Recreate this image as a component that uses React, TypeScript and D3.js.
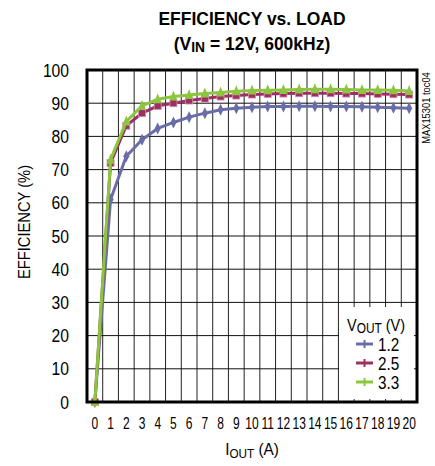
import * as d3 from 'd3';

const loads = d3.range(0, 21).map(String);

const eff12 = [0, 61, 74, 79, 82.4, 84.2, 85.8, 87, 88, 88.5, 88.8, 89, 89, 89.1, 89.1, 89, 89, 88.9, 88.8, 88.6, 88.5];
const eff25 = [0, 72, 83.2, 87, 89.2, 90, 90.8, 91.4, 92, 92.3, 92.6, 92.8, 92.9, 93, 93, 93, 92.9, 92.9, 92.8, 92.7, 92.6];
const eff33 = [0, 73, 84.5, 89.2, 91.2, 92, 92.5, 92.9, 93.2, 93.6, 93.8, 93.9, 94, 94.1, 94.2, 94.2, 94.1, 94, 94, 93.9, 93.7];

const yTicks = [0, 10, 20, 30, 40, 50, 60, 70, 80, 90, 100];

const series = [
  { name: '1.2', values: eff12, color: '#6a6ca8', marker: 'diamond' },
  { name: '2.5', values: eff25, color: '#9c3063', marker: 'square' },
  { name: '3.3', values: eff33, color: '#8cc63e', marker: 'triangle' },
];

const W = 435;
const H = 466;
const plot = { left: 87, right: 417, top: 70, bottom: 402 };

// no narrow face installed, so condensed look comes from a horizontal squeeze
const sans = '"Liberation Sans", Arial, sans-serif';

function Marker({ type, x, y, color }: { type: string; x: number; y: number; color: string }) {
  if (type === 'square') {
    return <rect x={x - 3.5} y={y - 3.5} width={7} height={7} fill={color} stroke="#d98bb0" strokeWidth={0.8} />;
  }
  if (type === 'triangle') {
    return <path d={`M${x},${y - 6} L${x + 4},${y + 4} L${x - 4},${y + 4} Z`} fill={color} />;
  }
  return <path d={`M${x},${y - 6} L${x + 3},${y} L${x},${y + 6} L${x - 3},${y} Z`} fill={color} />;
}

export default function App() {
  const x = d3.scaleBand<string>().domain(loads).range([plot.left, plot.right]).paddingInner(0).paddingOuter(0);
  const y = d3.scaleLinear().domain([0, 100]).range([plot.bottom, plot.top]);
  const cx = (c: string) => (x(c) ?? 0) + x.bandwidth() / 2;

  const line = d3
    .line<number>()
    .x((_, i) => cx(loads[i]))
    .y((d) => y(d));

  const boundaries = loads.slice(1).map((c) => x(c) ?? 0);

  const legend = { x0: 339, x1: 414, y0: 307, y1: 399 };

  return (
    <svg width={W} height={H} style={{ position: 'absolute', left: 0, top: 0, background: '#fff' }}>
      {/* title */}
      <g transform="translate(252,25) scale(0.92,1)">
        <text textAnchor="middle" fontFamily={sans} fontWeight="bold" fontSize={19}>
          EFFICIENCY vs. LOAD
        </text>
      </g>
      <g transform="translate(252,50) scale(0.92,1)">
        <text textAnchor="middle" fontFamily={sans} fontWeight="bold" fontSize={19}>
          (V<tspan fontSize={15} dy={2}>IN</tspan>
          <tspan dy={-2}> = 12V, 600kHz)</tspan>
        </text>
      </g>

      {/* grid */}
      {boundaries.map((bx, i) => (
        <line key={'v' + i} x1={bx} x2={bx} y1={plot.top} y2={plot.bottom} stroke="#222" strokeWidth={1} />
      ))}
      {yTicks.slice(1, -1).map((t) => (
        <line key={'h' + t} x1={plot.left} x2={plot.right} y1={y(t)} y2={y(t)} stroke="#111" strokeWidth={1} />
      ))}

      {/* legend background */}
      <rect x={legend.x0} y={legend.y0} width={legend.x1 - legend.x0} height={legend.y1 - legend.y0} fill="#fff" />

      {/* series */}
      {series.map((s) => (
        <g key={s.name}>
          <path d={line(s.values) ?? ''} fill="none" stroke={s.color} strokeWidth={3} strokeLinejoin="round" />
          {s.values.map((v, i) => (
            <Marker key={i} type={s.marker} x={cx(loads[i])} y={y(v)} color={s.color} />
          ))}
        </g>
      ))}

      {/* frame */}
      <rect
        x={plot.left}
        y={plot.top}
        width={plot.right - plot.left}
        height={plot.bottom - plot.top}
        fill="none"
        stroke="#000"
        strokeWidth={3}
      />

      {/* y axis */}
      {yTicks.map((t) => (
        <g key={t} transform={`translate(69,${y(t) + 6.5}) scale(0.87,1)`}>
          <text textAnchor="end" fontFamily={sans} fontSize={18}>
            {t}
          </text>
        </g>
      ))}
      <g transform={`translate(30,${(plot.top + plot.bottom) / 2 - 14}) rotate(-90) scale(0.92,1)`}>
        <text textAnchor="middle" fontFamily={sans} fontSize={16}>
          EFFICIENCY (%)
        </text>
      </g>

      {/* x axis */}
      {loads.map((c) => (
        <g key={c} transform={`translate(${cx(c)},429) scale(0.75,1)`}>
          <text textAnchor="middle" fontFamily={sans} fontSize={16}>
            {c}
          </text>
        </g>
      ))}
      <g transform="translate(252,455) scale(0.9,1)">
        <text textAnchor="middle" fontFamily={sans} fontSize={17}>
          I<tspan fontSize={13} dy={3}>OUT</tspan>
          <tspan dy={-3}> (A)</tspan>
        </text>
      </g>

      {/* legend */}
      <g transform="translate(347,331) scale(0.85,1)">
        <text fontFamily={sans} fontSize={17}>
          V<tspan fontSize={14} dy={2}>OUT</tspan>
          <tspan dy={-2}> (V)</tspan>
        </text>
      </g>
      {series.map((s, i) => {
        const ly = 344 + i * 19;
        return (
          <g key={'l' + s.name}>
            <line x1={356} x2={373} y1={ly} y2={ly} stroke={s.color} strokeWidth={3} />
            <line x1={364.5} x2={364.5} y1={ly - 4} y2={ly + 4} stroke={s.color} strokeWidth={2} />
            <g transform={`translate(378,${ly + 6.5}) scale(0.85,1)`}>
              <text fontFamily={sans} fontSize={18}>
                {s.name}
              </text>
            </g>
          </g>
        );
      })}

      {/* figure code */}
      <g transform="translate(430,108) rotate(-90) scale(0.85,1)">
        <text textAnchor="middle" fontFamily={sans} fontSize={11}>
          MAX15301 toc04
        </text>
      </g>
    </svg>
  );
}
